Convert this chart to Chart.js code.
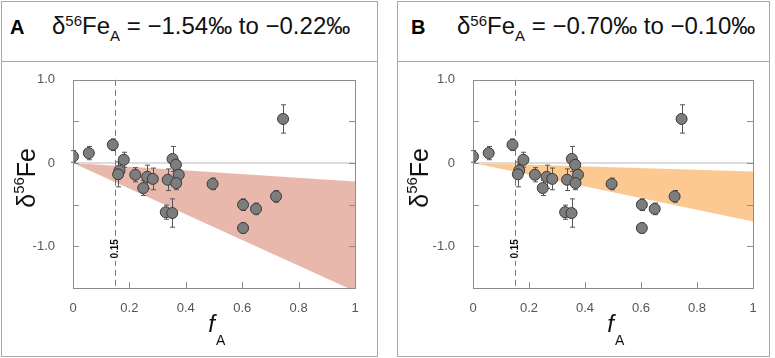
<!DOCTYPE html>
<html>
<head>
<meta charset="utf-8">
<script src="https://cdn.jsdelivr.net/npm/chart.js@4.4.0/dist/chart.umd.min.js"></script>
<style>
  body { margin: 0; background: #fff; width: 775px; height: 358px; position: relative; overflow: hidden;
         font-family: "Liberation Sans", Arial, Helvetica, sans-serif; }
  .box { position: absolute; top: 1px; height: 356px; border: 1px solid #a8a8a8; box-sizing: border-box; }
  .rule { position: absolute; top: 61px; height: 1px; background: #a8a8a8; }
  .tag { position: absolute; top: 17px; font-size: 20px; font-weight: bold; line-height: 20px; color: #000; }
  .ttl { position: absolute; top: 16px; font-size: 24px; line-height: 20px; color: #111; white-space: nowrap; }
  .ttl sup { font-size: 15px; vertical-align: 8px; line-height: 0; }
  .ttl sub { font-size: 15px; vertical-align: -7px; line-height: 0; }
  .wrap { position: absolute; top: 62px; height: 294px; }
</style>
</head>
<body>
<div class="box" style="left:1px;width:377px"></div>
<div class="rule" style="left:1px;width:377px"></div>
<div class="tag" style="left:10px">A</div>
<div class="ttl" style="left:52px">δ<sup>56</sup>Fe<sub>A</sub> = −1.54‰ to −0.22‰</div>
<div class="wrap" style="left:2px;width:375px"><canvas id="chartA"></canvas></div>

<div class="box" style="left:397px;width:373px"></div>
<div class="rule" style="left:397px;width:373px"></div>
<div class="tag" style="left:411px">B</div>
<div class="ttl" style="left:457px">δ<sup>56</sup>Fe<sub>A</sub> = −0.70‰ to −0.10‰</div>
<div class="wrap" style="left:398px;width:371px"><canvas id="chartB"></canvas></div>

<script>
// measured samples: fraction f_A, δ56Fe and its error
var fA    = [0.000, 0.056, 0.141, 0.180, 0.165, 0.160, 0.221, 0.263, 0.283, 0.249, 0.336, 0.329, 0.352, 0.353, 0.365, 0.375, 0.366, 0.495, 0.603, 0.603, 0.649, 0.720, 0.745];
var d56Fe = [0.08, 0.12, 0.22, 0.04, -0.09, -0.135, -0.14, -0.165, -0.19, -0.30, -0.20, -0.59, -0.60, 0.05, -0.02, -0.14, -0.24, -0.25, -0.50, -0.78, -0.55, -0.40, 0.53];
var errs  = [0.07, 0.08, 0.07, 0.09, 0.08, 0.15, 0.085, 0.14, 0.13, 0.09, 0.13, 0.085, 0.17, 0.15, 0.05, 0.06, 0.08, 0.07, 0.07, 0.06, 0.07, 0.07, 0.17];

// model envelopes: δ56Fe of the end member at f_A = 1
var rangeA = [-0.22, -1.54];
var rangeB = [-0.10, -0.70];
var cutoff = 0.15;

var xTicks = [0, 0.2, 0.4, 0.6, 0.8, 1];
var yLabels = { '1': '1.0', '0': '0', '-1': '-1.0' };

function decorPlugin(titleDx) {
  return {
    id: 'decor',
    beforeDatasetDraw: function(chart, args) {
      if (args.index !== 0) return;
      var ctx = chart.ctx, xs = chart.scales.x, ys = chart.scales.y, ca = chart.chartArea;
      ctx.save();
      // zero line
      ctx.strokeStyle = '#dcdcdc';
      ctx.lineWidth = 2;
      ctx.beginPath();
      ctx.moveTo(xs.getPixelForValue(0), ys.getPixelForValue(0));
      ctx.lineTo(xs.getPixelForValue(1), ys.getPixelForValue(0));
      ctx.stroke();
      // cutoff dashed line + label
      var cx = Math.round(xs.getPixelForValue(cutoff)) + 0.5;
      ctx.strokeStyle = '#777';
      ctx.lineWidth = 1;
      ctx.setLineDash([6, 4]);
      ctx.beginPath();
      ctx.moveTo(cx, ca.top);
      ctx.lineTo(cx, ca.bottom);
      ctx.stroke();
      ctx.setLineDash([]);
      var ly = ys.getPixelForValue(-1.03);
      ctx.fillStyle = '#fff';
      ctx.fillRect(cx - 6, ly - 12, 12, 24);
      ctx.translate(cx, ly);
      ctx.rotate(-Math.PI / 2);
      ctx.fillStyle = '#111';
      ctx.font = 'bold 10px "Liberation Sans", Arial, sans-serif';
      ctx.textAlign = 'center';
      ctx.textBaseline = 'middle';
      ctx.fillText(cutoff.toFixed(2), 0, 0);
      ctx.setTransform(1, 0, 0, 1, 0, 0);
      // error bars
      ctx.strokeStyle = '#555';
      ctx.lineWidth = 1;
      for (var i = 0; i < fA.length; i++) {
        var px = Math.round(xs.getPixelForValue(fA[i])) + 0.5;
        var top = ys.getPixelForValue(d56Fe[i] + errs[i]);
        var bot = ys.getPixelForValue(d56Fe[i] - errs[i]);
        ctx.beginPath();
        ctx.moveTo(px, top); ctx.lineTo(px, bot);
        ctx.moveTo(px - 2.5, top); ctx.lineTo(px + 2.5, top);
        ctx.moveTo(px - 2.5, bot); ctx.lineTo(px + 2.5, bot);
        ctx.stroke();
      }
      ctx.restore();
    },
    afterDraw: function(chart) {
      var ctx = chart.ctx, xs = chart.scales.x, ys = chart.scales.y, ca = chart.chartArea;
      ctx.save();
      // frame
      ctx.strokeStyle = '#8c8c8c';
      ctx.lineWidth = 1;
      ctx.strokeRect(Math.round(ca.left) + 0.5, Math.round(ca.top) + 0.5,
                     Math.round(ca.right - ca.left), Math.round(ca.bottom - ca.top));
      // inner ticks
      ctx.beginPath();
      ys.ticks.forEach(function(t) {
        var py = Math.round(ys.getPixelForValue(t.value)) + 0.5;
        ctx.moveTo(ca.left, py); ctx.lineTo(ca.left + 6, py);
        ctx.moveTo(ca.right, py); ctx.lineTo(ca.right - 6, py);
      });
      xs.ticks.forEach(function(t) {
        var px = Math.round(xs.getPixelForValue(t.value)) + 0.5;
        ctx.moveTo(px, ca.bottom); ctx.lineTo(px, ca.bottom - 6);
      });
      ctx.stroke();
      // y title: δ56Fe
      ctx.fillStyle = '#111';
      ctx.translate(ca.left + titleDx, (ca.top + ca.bottom) / 2 - 6);
      ctx.rotate(-Math.PI / 2);
      ctx.textBaseline = 'alphabetic';
      ctx.textAlign = 'left';
      var big = '25px "Liberation Sans", Arial, sans-serif';
      var small = '15px "Liberation Sans", Arial, sans-serif';
      ctx.font = big;
      var w1 = ctx.measureText('δ').width;
      ctx.font = small;
      var w2 = ctx.measureText('56').width;
      ctx.font = big;
      var w3 = ctx.measureText('Fe').width;
      var x0 = -(w1 + w2 + w3) / 2;
      ctx.fillText('δ', x0, 9);
      ctx.font = small;
      ctx.fillText('56', x0 + w1, -2);
      ctx.font = big;
      ctx.fillText('Fe', x0 + w1 + w2, 9);
      ctx.setTransform(1, 0, 0, 1, 0, 0);
      // x title: f_A
      var mx = (ca.left + ca.right) / 2;
      ctx.font = 'italic 24px "Liberation Sans", Arial, sans-serif';
      ctx.textAlign = 'right';
      ctx.fillText('f', mx + 1, ca.bottom + 44);
      ctx.font = '14px "Liberation Sans", Arial, sans-serif';
      ctx.textAlign = 'left';
      ctx.fillText('A', mx + 2, ca.bottom + 57);
      ctx.restore();
    }
  };
}

function makeChart(id, range, fillColor, yWidth, rightPad, titleDx) {
  var points = [];
  for (var i = 0; i < fA.length; i++) {
    points.push({ x: fA[i], y: d56Fe[i] });
  }
  new Chart(document.getElementById(id), {
    type: 'scatter',
    data: {
      datasets: [
        {
          data: points,
          order: 0,
          pointRadius: 5.5,
          pointHoverRadius: 5.5,
          backgroundColor: '#7d7d7d',
          borderColor: '#3a3a3a',
          borderWidth: 1
        },
        {
          data: [{ x: 0, y: 0 }, { x: 1, y: range[0] }],
          order: 1,
          showLine: true,
          pointRadius: 0,
          borderWidth: 0,
          borderColor: 'rgba(0,0,0,0)',
          fill: false
        },
        {
          data: [{ x: 0, y: 0 }, { x: 1, y: range[1] }],
          order: 1,
          showLine: true,
          pointRadius: 0,
          borderWidth: 0,
          borderColor: 'rgba(0,0,0,0)',
          backgroundColor: fillColor,
          fill: '-1'
        }
      ]
    },
    options: {
      responsive: true,
      maintainAspectRatio: false,
      animation: false,
      events: [],
      layout: { padding: { top: 17, right: rightPad, left: 0, bottom: 0 } },
      plugins: { legend: { display: false }, tooltip: { enabled: false } },
      scales: {
        x: {
          type: 'linear',
          min: 0,
          max: 1,
          afterFit: function(s) { s.height = 68; },
          afterBuildTicks: function(s) { s.ticks = xTicks.map(function(v) { return { value: v }; }); },
          grid: { display: false },
          border: { display: false },
          ticks: {
            padding: 5,
            color: '#555',
            font: { size: 13, family: '"Liberation Sans", Arial, sans-serif' },
            maxRotation: 0,
            callback: function(v) { return String(Math.round(v * 10) / 10); }
          }
        },
        y: {
          min: -1.5,
          max: 1.0,
          afterFit: function(s) { s.width = yWidth; },
          grid: { display: false },
          border: { display: false },
          ticks: {
            stepSize: 0.5,
            padding: 10,
            color: '#555',
            font: { size: 13, family: '"Liberation Sans", Arial, sans-serif' },
            callback: function(v) {
              var k = String(v);
              return yLabels.hasOwnProperty(k) ? yLabels[k] : '';
            }
          }
        }
      }
    },
    plugins: [decorPlugin(titleDx)]
  });
}

makeChart('chartA', rangeA, 'rgba(229,172,158,0.85)', 71, 22, -47);
makeChart('chartB', rangeB, 'rgba(253,195,135,0.9)', 75, 16, -54);
</script>
</body>
</html>
